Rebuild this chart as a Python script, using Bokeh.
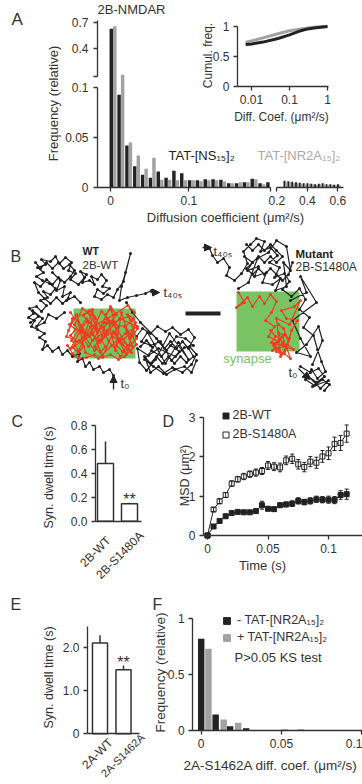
import math
from bokeh.plotting import figure
from bokeh.models import (Range1d, LogScale, LinearAxis, LogAxis, FixedTicker, Label,
                          Legend, LegendItem, ColumnDataSource, Whisker, TeeHead, Arrow,
                          NormalHead)
from bokeh.embed import file_html
from bokeh.resources import INLINE

W, H = 362, 784
FONT = "Liberation Sans"
TXT = "#333333"
DARK = "#222222"
GREY = "#a2a2a2"
GREEN = "#78c364"
RED = "#f03c1e"
NAN = float("nan")

# ---------------- DATA ----------------
# A : histogram of diffusion coefficients (bins of 0.01 um2/s), two conditions
A_BINS = [0.00, 0.01, 0.02, 0.03, 0.04, 0.05, 0.06, 0.07, 0.08, 0.09, 0.10,
          0.11, 0.12, 0.13, 0.14, 0.15, 0.16, 0.17, 0.18, 0.19, 0.20]
A_NS = [0.626, 0.093, 0.042, 0.021, 0.0125, 0.0095, 0.0158, 0.0095, 0.0165, 0.014, 0.007,
        0.007, 0.008, 0.008, 0.0075, 0.004, 0.004, 0.005, 0.0085, 0.004, 0.005]
A_NR2A = [0.655, 0.107, 0.045, 0.032, 0.0185, 0.0296, 0.0074, 0.0074, 0.007, 0.007, 0.007,
          0.006, 0.007, 0.007, 0.006, 0.004, 0.005, 0.005, 0.008, 0.003, 0.0]
A_TAIL_BINS = [0.25, 0.275, 0.30, 0.325, 0.35, 0.375, 0.40, 0.425, 0.45, 0.475,
               0.50, 0.525, 0.55, 0.575, 0.60]
A_TAIL_NS = [0.0065, 0.006, 0.0055, 0.005, 0.0045, 0.004, 0.004, 0.0035, 0.003, 0.0035,
             0.004, 0.003, 0.003, 0.0025, 0.003]
A_TAIL_NR2A = [0.005, 0.005, 0.004, 0.004, 0.0035, 0.003, 0.0035, 0.003, 0.0025, 0.003,
               0.003, 0.0025, 0.0025, 0.002, 0.002]
A_XTICKS_LOW = [0.0, 0.1]
A_XTICKS_TAIL = [0.2, 0.4, 0.6]
A_YTICKS_LOW = [0.0, 0.05, 0.1]
A_YTICKS_HIGH = [0.4, 0.7]
# A inset : cumulative frequency
INSET_X = [0.007, 0.01, 0.02, 0.05, 0.1, 0.2, 0.3, 0.5, 1.0]
INSET_NS = [0.70, 0.71, 0.74, 0.80, 0.86, 0.93, 0.96, 0.98, 1.0]
INSET_NR2A = [0.74, 0.76, 0.81, 0.88, 0.93, 0.96, 0.975, 0.99, 1.0]
INSET_XTICKS = [0.01, 0.1, 1.0]
INSET_YTICKS = [0.0, 0.5, 1.0]

# B : single-molecule trajectories (image pixels), extrasynaptic (black) / synaptic (red)
WT_TRACK = [
    [(113, 375), (109, 369), (103, 372), (99, 366), (93, 369), (89, 362), (85, 366), (82, 358),
     (77, 361), (79, 353), (72, 356), (67, 350), (62, 354), (58, 347), (52, 351), (47, 345),
     (42, 349), (45, 341), (39, 337), (44, 333), (37, 329), (31, 326), (34, 320), (28, 317),
     (33, 313), (29, 308), (36, 306), (41, 311), (46, 305), (40, 300), (47, 297), (43, 291),
     (50, 294), (55, 288), (49, 283), (42, 280), (36, 276), (43, 272), (37, 267), (45, 264),
     (41, 259), (50, 261), (55, 256), (59, 263), (65, 257), (71, 262), (68, 270), (75, 273),
     (70, 279), (78, 284), (84, 277), (80, 271), (86, 274), (82, 282), (89, 280), (94, 284),
     (91, 276), (97, 279), (101, 274), (106, 280), (102, 286), (109, 288), (103, 293), (97, 289),
     (94, 296), (101, 299), (107, 294), (113, 297), (117, 289), (123, 281), (130, 253),
     (125, 272), (121, 286), (119, 300), (127, 297), (136, 295), (145, 293), (151, 290), (155, 292)],
    [(136, 336), (142, 328), (150, 333), (157, 326), (165, 331), (172, 327), (180, 334), (188, 329),
     (194, 337), (189, 346), (196, 354), (191, 364), (182, 372), (172, 367), (163, 373), (153, 366),
     (144, 359), (151, 350), (161, 356), (170, 345), (179, 351), (171, 360), (160, 341), (150, 345),
     (141, 341), (147, 332), (165, 363), (178, 342), (188, 359), (169, 333), (155, 359), (146, 370),
     (139, 362), (137, 348), (148, 355), (158, 348), (175, 356), (184, 347), (193, 345), (185, 338),
     (176, 336), (166, 350), (156, 338), (140, 322), (132, 312), (126, 302)],
    [(140, 346), (146, 340), (152, 347), (158, 341), (164, 348), (170, 341), (176, 348), (182, 341),
     (188, 348), (193, 356), (186, 362), (180, 356), (174, 363), (168, 356), (162, 363), (156, 356),
     (150, 363), (144, 356), (150, 372), (158, 366), (166, 374), (174, 369), (184, 366), (191, 372),
     (196, 360)],
    [(30, 322), (38, 316), (32, 310), (42, 318), (36, 326), (44, 322), (48, 314), (56, 318), (64, 312)],
    [(52, 272), (60, 280), (56, 290), (64, 286), (62, 296), (70, 292), (66, 300), (74, 296), (80, 302)],
    [(35, 262), (40, 268), (46, 262), (52, 268), (58, 262), (63, 268), (69, 264), (74, 270), (70, 276),
     (64, 282), (58, 277), (52, 284), (46, 279), (40, 286), (34, 282), (38, 292), (44, 298), (50, 303),
     (56, 297), (62, 303), (68, 298)],
]
WT_SYN_TRACK = [
    [(68, 330), (76, 314), (84, 336), (92, 309), (99, 342), (107, 318), (115, 350), (121, 312),
     (129, 338), (135, 322), (126, 354), (113, 331), (102, 356), (90, 326), (78, 350), (71, 340),
     (86, 318), (97, 332), (110, 306), (118, 340), (132, 346), (124, 326), (104, 322), (88, 346),
     (74, 324), (82, 308), (95, 318), (108, 340), (120, 356), (136, 338), (128, 316), (112, 322),
     (94, 350), (80, 330), (70, 348), (89, 336), (101, 311), (116, 328), (131, 352), (122, 344),
     (106, 330), (92, 340), (77, 320), (85, 352), (98, 358), (111, 345), (125, 333), (137, 326),
     (119, 318), (103, 336), (87, 312), (72, 318), (66, 336), (81, 342), (96, 324), (114, 314),
     (127, 305), (134, 312)],
    [(70, 312), (74, 318), (69, 324), (75, 329), (70, 335), (76, 341), (72, 347), (78, 352),
     (83, 346), (79, 340), (85, 334), (81, 327), (87, 321), (83, 315), (89, 310), (94, 316),
     (90, 322), (96, 328), (92, 334), (98, 340), (94, 346), (100, 352), (105, 346), (101, 340),
     (107, 334), (103, 327), (109, 321), (105, 314), (111, 308), (116, 314), (112, 320), (118, 326),
     (114, 333), (120, 339), (116, 345), (122, 351), (127, 345), (123, 339), (129, 333), (125, 326),
     (131, 320), (127, 314), (133, 318), (137, 328), (132, 336), (136, 344), (130, 350), (124, 356),
     (118, 359), (110, 354), (102, 357), (94, 354), (86, 357), (78, 358), (72, 353), (67, 345)],
]
MUT_TRACK = [
    [(209, 248), (212, 255), (217, 262), (223, 258), (229, 267), (226, 275), (234, 280), (241, 273),
     (247, 263), (243, 251), (250, 244), (256, 238), (264, 241), (260, 251), (270, 247), (277, 255),
     (269, 262), (279, 267), (274, 277), (284, 273), (289, 281), (282, 289), (291, 296), (299, 288),
     (305, 299), (299, 309), (309, 317), (303, 327), (313, 335), (317, 349), (321, 361), (325, 371),
     (317, 378), (311, 369), (305, 379), (314, 385), (322, 379), (329, 384), (324, 390)],
    [(244, 256), (252, 262), (247, 270), (258, 266), (254, 276), (266, 272), (262, 282), (272, 284),
     (280, 278), (275, 290), (286, 286), (283, 262), (290, 270), (286, 246), (276, 240), (268, 252),
     (257, 258), (248, 282), (238, 288)],
    [(246, 244), (252, 250), (258, 244), (264, 250), (270, 244), (276, 250), (282, 256), (276, 262),
     (270, 256), (264, 262), (258, 256), (252, 262), (246, 268), (252, 274), (258, 268), (264, 274),
     (270, 268), (276, 274), (282, 280), (288, 274), (292, 262)],
    [(290, 300), (306, 292), (300, 276), (316, 302), (292, 320), (300, 338), (310, 356), (296, 352),
     (306, 344), (318, 326), (322, 340), (312, 364)],
    [(300, 366), (310, 372), (318, 368), (324, 376), (316, 382), (308, 376), (320, 388), (328, 380),
     (312, 386)],
]
MUT_SYN_TRACK = [
    [(238, 292), (244, 302), (236, 307), (247, 297), (252, 306), (259, 296), (264, 303), (270, 294),
     (276, 301), (271, 312), (265, 320), (274, 326), (268, 336), (278, 341), (272, 350), (283, 346),
     (278, 332), (289, 338), (284, 353), (291, 330), (297, 320), (286, 318), (281, 310), (294, 306),
     (300, 300), (289, 324), (276, 318), (280, 356), (287, 344), (293, 349), (274, 343), (282, 336),
     (290, 358), (279, 350)],
    [(270, 330), (275, 336), (271, 342), (277, 348), (282, 342), (286, 348), (281, 354), (276, 351),
     (273, 345), (279, 339), (284, 334), (288, 340), (283, 328), (278, 324)],
]
SYNAPSES = {"left": [73, 236], "right": [135, 299], "top": [308, 291], "bottom": [358, 351]}
SCALE_BAR = [(185, 313), (220, 313)]

# C : synaptic dwell time, 2B
C_LABELS = ["2B-WT", "2B-S1480A"]
C_MEAN = [0.483, 0.145]
C_ERR = [0.184, 0.01]
C_YTICKS = [0.0, 0.2, 0.4, 0.6, 0.8]

# D : MSD curves
D_TIME = [0.0, 0.005, 0.01, 0.015, 0.02, 0.025, 0.03, 0.035, 0.04, 0.045, 0.05, 0.055,
          0.06, 0.065, 0.07, 0.075, 0.08, 0.085, 0.09, 0.095, 0.1, 0.105, 0.11, 0.115]
D_WT = [0.0, 0.23, 0.37, 0.49, 0.57, 0.60, 0.59, 0.59, 0.62, 0.77, 0.68, 0.67,
        0.77, 0.79, 0.81, 0.88, 0.85, 0.88, 0.92, 0.91, 0.91, 0.90, 1.03, 1.05]
D_WT_ERR = [0.0, 0.03, 0.03, 0.04, 0.04, 0.04, 0.04, 0.04, 0.05, 0.10, 0.05, 0.05,
            0.06, 0.06, 0.07, 0.08, 0.07, 0.08, 0.08, 0.08, 0.09, 0.09, 0.11, 0.13]
D_MUT = [0.0, 0.66, 0.87, 1.03, 1.32, 1.43, 1.50, 1.56, 1.60, 1.64, 1.78, 1.75,
         1.73, 1.91, 1.95, 1.81, 1.74, 1.88, 1.85, 2.01, 2.09, 2.33, 2.35, 2.59]
D_MUT_ERR = [0.0, 0.05, 0.06, 0.06, 0.07, 0.07, 0.08, 0.08, 0.09, 0.09, 0.10, 0.10,
             0.11, 0.11, 0.12, 0.12, 0.12, 0.13, 0.14, 0.15, 0.16, 0.17, 0.19, 0.22]
D_XTICKS = [0.0, 0.05, 0.1]
D_YTICKS = [0, 1, 2, 3]

# E : synaptic dwell time, 2A
E_LABELS = ["2A-WT", "2A-S1462A"]
E_MEAN = [2.11, 1.49]
E_ERR = [0.18, 0.10]
E_YTICKS = [0.0, 1.0, 2.0]

# F : 2A-S1462A diffusion histogram
F_NEG_X = [0.0, 0.009, 0.018, 0.028]
F_NEG = [0.82, 0.143, 0.039, 0.021]
F_POS_X = [0.0045, 0.014, 0.023, 0.052, 0.062]
F_POS = [0.73, 0.098, 0.069, 0.012, 0.012]
F_XTICKS = [0.0, 0.05, 0.1]
F_YTICKS = [0.0, 0.5, 1.0]


# ---------------- helpers ----------------
def lin_x(v0, p0, v1, p1):
    k = (p1 - p0) / (v1 - v0)
    s = v0 - p0 / k
    return Range1d(s, s + W / k)


def lin_y(v0, py0, v1, py1):
    q0, q1 = H - py0, H - py1
    k = (q1 - q0) / (v1 - v0)
    s = v0 - q0 / k
    return Range1d(s, s + H / k)


def log_x(v0, p0, v1, p1):
    l0, l1 = math.log10(v0), math.log10(v1)
    k = (p1 - p0) / (l1 - l0)
    s = l0 - p0 / k
    return Range1d(10 ** s, 10 ** (s + W / k))


def a_x(v):
    return v


def a_tail(v):
    return 0.2125 + (v - 0.2) * 0.195


def a_y(v):
    return v if v <= 0.1 else 0.1124 + (v - 0.1) * 0.0892


p = figure(width=W, height=H, x_range=Range1d(0, W), y_range=Range1d(H, 0),
           x_axis_type=None, y_axis_type=None, toolbar_location=None,
           output_backend="svg", min_border=0)
p.outline_line_color = None
p.background_fill_color = "white"
p.border_fill_color = "white"

p.extra_x_ranges = {
    "ax": lin_x(0.0, 110.0, 0.1, 188.3),
    "ix": log_x(0.01, 251.0, 1.0, 327.0),
    "cx": lin_x(1, 105.0, 2, 129.0),
    "dx": lin_x(0.0, 207.0, 0.1, 328.0),
    "ex": lin_x(1, 99.5, 2, 123.0),
    "fx": lin_x(0.0, 200.7, 0.05, 281.0),
}
p.extra_x_scales = {"ix": LogScale()}
p.extra_y_ranges = {
    "ay": lin_y(0.0, 186.7, 0.1, 87.3),
    "iy": lin_y(0.0, 86.0, 1.0, 26.0),
    "cy": lin_y(0.0, 520.7, 0.8, 425.0),
    "dy": lin_y(0.0, 535.0, 3.0, 417.0),
    "ey": lin_y(0.0, 733.3, 2.0, 647.3),
    "fy": lin_y(0.0, 730.0, 0.5, 674.0),
}


def axis(side, xr, yr, fixed, bounds, ticks, labels, log=False, standoff=4,
         tick_out=4, size="12px"):
    cls = LogAxis if log else LinearAxis
    ax = cls(x_range_name=xr, y_range_name=yr, fixed_location=fixed, bounds=bounds)
    ax.ticker = FixedTicker(ticks=list(ticks), minor_ticks=[])
    ax.major_label_overrides = {t: l for t, l in zip(ticks, labels)}
    ax.axis_line_color = TXT
    ax.axis_line_width = 1.3
    ax.major_tick_line_color = TXT
    ax.major_tick_line_width = 1.3
    ax.major_tick_out = tick_out
    ax.major_tick_in = 0
    ax.minor_tick_line_color = None
    ax.major_label_text_font = FONT
    ax.major_label_text_font_size = size
    ax.major_label_text_color = TXT
    ax.major_label_standoff = standoff
    p.add_layout(ax, side)
    return ax


def text(x, y, s, size="12px", color=TXT, align="left", baseline="middle",
         angle=0.0, bold=False):
    lab = Label(x=x, y=y, text=s, text_font=FONT, text_font_size=size,
                text_color=color, text_align=align, text_baseline=baseline,
                angle=angle)
    if bold:
        lab.text_font_style = "bold"
    p.add_layout(lab)


def flat(tracks):
    xs, ys = [], []
    for seg in tracks:
        for (x, y) in seg:
            xs.append(x)
            ys.append(y)
        xs.append(NAN)
        ys.append(NAN)
    return xs[:-1], ys[:-1]


# ---------------- Panel A ----------------
p.vbar(x=[a_x(b) + 0.001 for b in A_BINS], top=[a_y(v) for v in A_NS], bottom=0,
       width=0.0044, fill_color=DARK, line_color=None, x_range_name="ax", y_range_name="ay")
p.vbar(x=[a_x(b) + 0.0055 for b in A_BINS], top=[a_y(v) for v in A_NR2A], bottom=0,
       width=0.0044, fill_color=GREY, line_color=None, x_range_name="ax", y_range_name="ay")
p.vbar(x=[a_tail(b) for b in A_TAIL_BINS], top=[a_y(v) for v in A_TAIL_NS], bottom=0,
       width=0.0026, fill_color=DARK, line_color=None, x_range_name="ax", y_range_name="ay")
p.vbar(x=[a_tail(b + 0.0125) for b in A_TAIL_BINS], top=[a_y(v) for v in A_TAIL_NR2A], bottom=0,
       width=0.0026, fill_color=GREY, line_color=None, x_range_name="ax", y_range_name="ay")

a_left = -0.0166
axis("below", "ax", "ay", 0.0, (a_left, 0.2045),
     [a_x(t) for t in A_XTICKS_LOW] + [0.2045], ["0", "0.1", ""], standoff=5)
axis("below", "ax", "ay", 0.0, (a_tail(0.2), a_tail(0.636)),
     [a_tail(t) for t in A_XTICKS_TAIL], ["0.2", "0.4", "0.6"], standoff=5)
axis("left", "ax", "ay", a_left, (0.0, 0.1),
     [a_y(t) for t in A_YTICKS_LOW], ["0", "0.05", "0.1"], standoff=5)
axis("left", "ax", "ay", a_left, (0.1114, 0.1677),
     [0.1114] + [a_y(t) for t in A_YTICKS_HIGH], ["", "0.4", "0.7"], standoff=5)

# inset
p.line(INSET_X, INSET_NR2A, line_color=GREY, line_width=3, x_range_name="ix", y_range_name="iy")
p.line(INSET_X, INSET_NS, line_color=DARK, line_width=3, x_range_name="ix", y_range_name="iy")
i_left = 10 ** (-2 - 14.0 / 38.0)
axis("below", "ix", "iy", 0.0, (i_left, 1.06), INSET_XTICKS, ["0.01", "0.1", "1"], log=True,
     standoff=4)
axis("left", "ix", "iy", i_left, (0.0, 1.0), INSET_YTICKS, ["0", "0.5", "1"], standoff=4)

text(11, 19, "A", size="17px")
text(131, 9, "2B-NMDAR", size="13px", align="center")
text(53, 103, "Frequency (relative)", size="13px", align="center", angle=math.pi / 2)
text(225, 217, "Diffusion coefficient (μm²/s)", size="13px", align="center")
text(207, 55, "Cumul. freq.", size="12px", align="center", angle=math.pi / 2)
text(281, 116, "Diff. Coef. (μm²/s)", size="12px", align="center")
text(168, 155, "TAT-[NS₁₅]₂", size="13px", color=DARK)
text(257, 155, "TAT-[NR2A₁₅]₂", size="13px", color="#aaaaaa")

# ---------------- Panel B ----------------
p.quad(left=SYNAPSES["left"], right=SYNAPSES["right"], top=SYNAPSES["top"],
       bottom=SYNAPSES["bottom"], fill_color=GREEN, line_color=None)
for tracks, col in ((WT_TRACK, DARK), (MUT_TRACK, DARK), (WT_SYN_TRACK, RED), (MUT_SYN_TRACK, RED)):
    xs, ys = flat(tracks)
    p.line(xs, ys, line_color=col, line_width=1.2)
    p.scatter(xs, ys, size=3, fill_color=col, line_color=None)
p.line([q[0] for q in SCALE_BAR], [q[1] for q in SCALE_BAR], line_color=DARK, line_width=4)

for (x0, y0, x1, y1) in ((150, 292, 159, 292), (113, 389, 113, 375),
                         (202, 247, 211, 247), (298, 368, 309, 379)):
    p.add_layout(Arrow(end=NormalHead(size=7, fill_color=DARK, line_color=DARK),
                       x_start=x0, y_start=y0, x_end=x1, y_end=y1,
                       line_color=DARK, line_width=1.3))

text(10, 256, "B", size="16px")
text(82, 250, "WT", size="10.5px", bold=True, color=DARK)
text(82, 264, "2B-WT", size="11.5px")
text(163, 292, "t₄₀ₛ", size="13px")
text(120, 383, "t₀", size="13px")
text(295, 253, "Mutant", size="11.5px", bold=True, color=DARK)
text(295, 266, "2B-S1480A", size="12px")
text(213, 251, "t₄₀ₛ", size="13px")
text(288, 372, "t₀", size="13px")
text(247, 358, "synapse", size="13px", color=GREEN, align="center")

# ---------------- Panel C ----------------
c_pos = [i + 1 for i in range(len(C_LABELS))]
p.vbar(x=c_pos, top=C_MEAN, bottom=0, width=0.667, fill_color="white", line_color=TXT,
       line_width=1.5, x_range_name="cx", y_range_name="cy")
p.segment(x0=c_pos, y0=C_MEAN, x1=c_pos, y1=[m + e for m, e in zip(C_MEAN, C_ERR)],
          line_color=TXT, line_width=1.5, x_range_name="cx", y_range_name="cy")
c_left = 1 - 10.0 / 24.0
axis("left", "cx", "cy", c_left, (0.0, 0.8), C_YTICKS, ["0.0", "0.2", "0.4", "0.6", "0.8"],
     standoff=4)
axis("below", "cx", "cy", 0.0, (c_left, 2.5), [], [], tick_out=0)
text(11, 421, "C", size="16px")
text(48, 477, "Syn. dwell time (s)", size="12.5px", align="center", angle=math.pi / 2)
text(129, 499, "**", size="16px", align="center", baseline="alphabetic")
text(108, 538, C_LABELS[0], size="12px", align="right", angle=math.pi / 4)
text(141, 533, C_LABELS[1], size="12px", align="right", angle=math.pi / 4)

# ---------------- Panel D ----------------
wsrc = ColumnDataSource(dict(x=D_TIME, lo=[m - e for m, e in zip(D_WT, D_WT_ERR)],
                             hi=[m + e for m, e in zip(D_WT, D_WT_ERR)]))
msrc = ColumnDataSource(dict(x=D_TIME, lo=[m - e for m, e in zip(D_MUT, D_MUT_ERR)],
                             hi=[m + e for m, e in zip(D_MUT, D_MUT_ERR)]))
for src in (wsrc, msrc):
    p.add_layout(Whisker(source=src, base="x", lower="lo", upper="hi", dimension="height",
                         line_color=DARK, line_width=1,
                         upper_head=TeeHead(size=4, line_color=DARK, line_width=1),
                         lower_head=TeeHead(size=4, line_color=DARK, line_width=1),
                         x_range_name="dx", y_range_name="dy", level="glyph"))
p.line(D_TIME, D_MUT, line_color=DARK, line_width=1, x_range_name="dx", y_range_name="dy")
p.line(D_TIME, D_WT, line_color=DARK, line_width=1, x_range_name="dx", y_range_name="dy")
d_mut = p.scatter(D_TIME, D_MUT, marker="square", size=5, fill_color="white", line_color=DARK,
                  line_width=1, x_range_name="dx", y_range_name="dy")
d_wt = p.scatter(D_TIME, D_WT, marker="square", size=5, fill_color=DARK, line_color=DARK,
                 line_width=1, x_range_name="dx", y_range_name="dy")
d_left = -4.0 / 1210.0
axis("left", "dx", "dy", d_left, (0.0, 3.0), D_YTICKS, ["0", "1", "2", "3"], standoff=4)
axis("below", "dx", "dy", 0.0, (d_left, 0.13), D_XTICKS, ["0", "0.05", "0.1"], standoff=4)
leg_d = Legend(items=[LegendItem(label="2B-WT", renderers=[d_wt]),
                      LegendItem(label="2B-S1480A", renderers=[d_mut])],
               location=(217.5, H - 441.5), background_fill_alpha=0, border_line_color=None,
               padding=0, margin=0, spacing=4, glyph_width=15, glyph_height=15,
               label_height=15, label_standoff=0, label_text_font=FONT,
               label_text_font_size="12.5px", label_text_color=TXT)
p.add_layout(leg_d)
text(162, 421, "D", size="16px")
text(184, 475, "MSD (μm²)", size="12.5px", align="center", angle=math.pi / 2)
text(262, 565, "Time (s)", size="13px", align="center")

# ---------------- Panel E ----------------
e_pos = [i + 1 for i in range(len(E_LABELS))]
p.vbar(x=e_pos, top=E_MEAN, bottom=0, width=0.64, fill_color="white", line_color=TXT,
       line_width=1.5, x_range_name="ex", y_range_name="ey")
p.segment(x0=e_pos, y0=E_MEAN, x1=e_pos, y1=[m + e for m, e in zip(E_MEAN, E_ERR)],
          line_color=TXT, line_width=1.5, x_range_name="ex", y_range_name="ey")
e_left = 1 - 12.5 / 23.5
axis("left", "ex", "ey", e_left, (0.0, 2.5), E_YTICKS, ["0", "1.0", "2.0"], standoff=4)
axis("below", "ex", "ey", 0.0, (e_left, 2.7), [], [], tick_out=0)
text(10, 604, "E", size="16px")
text(48, 677, "Syn. dwell time (s)", size="12.5px", align="center", angle=math.pi / 2)
text(123, 662, "**", size="16px", align="center", baseline="alphabetic")
text(110, 740, E_LABELS[0], size="12px", align="right", angle=math.pi / 4)
text(142, 735, E_LABELS[1], size="11px", align="right", angle=math.pi / 4)

# ---------------- Panel F ----------------
p.vbar(x=F_NEG_X, top=F_NEG, bottom=0, width=0.004, fill_color=DARK, line_color=None,
       x_range_name="fx", y_range_name="fy")
p.vbar(x=F_POS_X, top=F_POS, bottom=0, width=0.004, fill_color=GREY, line_color=None,
       x_range_name="fx", y_range_name="fy")
f_left = -8.7 / 1616.0
axis("left", "fx", "fy", f_left, (0.0, 1.0), F_YTICKS, ["0", "0.5", "1"], standoff=4)
axis("below", "fx", "fy", 0.0, (f_left, 0.105), F_XTICKS, ["0", "0.05", "0.1"], standoff=4)
f_neg_key = p.scatter(F_NEG_X, F_NEG, marker="square", fill_color=DARK, line_color=DARK,
                      x_range_name="fx", y_range_name="fy", visible=False)
f_pos_key = p.scatter(F_POS_X, F_POS, marker="square", fill_color=GREY, line_color=GREY,
                      x_range_name="fx", y_range_name="fy", visible=False)
leg_f = Legend(items=[LegendItem(label="- TAT-[NR2A₁₅]₂", renderers=[f_neg_key]),
                      LegendItem(label="+ TAT-[NR2A₁₅]₂", renderers=[f_pos_key])],
               location=(218, H - 645.5), background_fill_alpha=0, border_line_color=None,
               padding=0, margin=0, spacing=0, glyph_width=17, glyph_height=17,
               label_height=17, label_standoff=2, label_text_font=FONT,
               label_text_font_size="12.5px", label_text_color=TXT,
               inactive_fill_alpha=0)
p.add_layout(leg_f)
text(234, 657, "P>0.05 KS test", size="13px")
text(152, 604, "F", size="16px")
text(160, 672, "Frequency (relative)", size="13.5px", align="center", angle=math.pi / 2)
text(183, 765, "2A-S1462A diff. coef. (μm²/s)", size="13.5px")

open("out.html", "w").write(file_html(p, INLINE))
